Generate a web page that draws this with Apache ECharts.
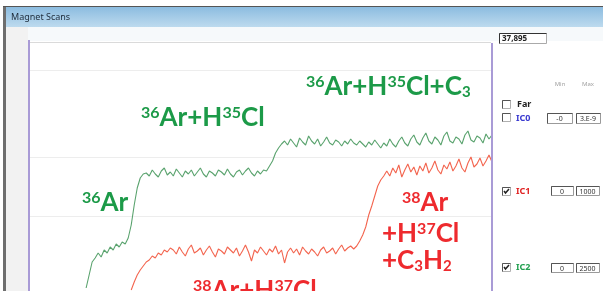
<!DOCTYPE html>
<html><head><meta charset="utf-8">
<script src="https://cdn.jsdelivr.net/npm/echarts@6/dist/echarts.min.js"></script>
<style>html,body{margin:0;padding:0;background:#fff}#c{width:603px;height:291px}</style>
</head><body><div id="c"></div>
<script>
// scan steps (x categories)
const scanSteps = [];
for (let i = 0; i < 155; i++) scanSteps.push(String(i));

// IC2 (green) counts
const ic2Counts = [
 null,null,null,null,null,null,null,null,null,null,null,null,null,null,null,null,null,null,null,
 30,160,290,330,380,340,410,380,440,410,470,440,490,470,530,660,860,1030,1130,1170,
 1180,1150,1210,1170,1140,1200,1230,1160,1190,1150,1220,1180,1140,1200,1170,1210,1150,1190,1230,1170,
 1140,1200,1180,1150,1210,1190,1160,1220,1170,1140,1190,1210,1160,1200,1230,1180,1150,1200,1170,1210,
 1200,1250,1300,1380,1430,1470,1500,
 1460,1520,1480,1440,1530,1490,1460,1550,1500,1470,
 1520,1450,1490,1540,1480,1460,1510,1490,1450,1500,
 1470,1520,1480,1460,1500,1470,1440,1490,1460,1510,
 1470,1430,1480,1450,1520,1470,1440,1500,1540,1480,
 1450,1520,1560,1490,1460,1530,1580,1500,1470,1540,
 1510,1460,1550,1590,1500,1480,1540,1520,1470,1560,
 1600,1510,1490,1550,1530,1480,1570,1520,1560
];

// IC1 (red) counts
const ic1Counts = [
 null,null,null,null,null,null,null,null,null,null,null,null,null,null,null,null,null,
 null,null,null,null,null,null,null,null,null,null,null,null,null,null,null,null,null,
 10,90,160,210,250,290,310,350,330,380,360,410,390,430,
 410,370,440,390,350,420,460,380,400,430,
 360,410,450,390,340,420,400,370,440,410,
 380,430,350,400,460,390,300,410,380,440,
 400,360,420,390,450,370,410,280,390,430,
 380,420,360,440,400,370,420,390,350,410,
 440,380,400,430,370,420,460,400,430,450,
 420,
 450,500,560,640,760,850,950,1050,1110,1150,1200,
 1150,1230,1180,1260,1140,1210,1270,1190,1240,1160,
 1250,1200,1280,1180,1230,1300,1210,1170,1260,1220,
 1290,1200,1250,1320,1230,1190,1280,1340,1240,1270,
 1330,1250,1300,1360,1290
];

// faint horizontal reference levels
const gridLevels = [2210, 1340, 750];

const GREEN_TXT = '#1c9a48', RED_TXT = '#ee2a2e';
const LBL_FONT = 'Lato, "Open Sans", sans-serif';

function richFor(color) {
  return {
    m: {fontSize: 26, fontWeight: 'bold', fontFamily: LBL_FONT, fill: color, color: color, lineHeight: 26, verticalAlign: 'bottom'},
    s: {fontSize: 16, fontWeight: 'bold', fontFamily: LBL_FONT, fill: color, color: color, lineHeight: 16, verticalAlign: 'top'},
    b: {fontSize: 15, fontWeight: 'bold', fontFamily: LBL_FONT, fill: color, color: color, lineHeight: 15, verticalAlign: 'bottom'}
  };
}
function chem(text, color, x, y) {
  return {type: 'text', z: 100, style: {text: text, x: x, y: y, rich: richFor(color),
    align: 'left', textAlign: 'left', verticalAlign: 'top', textVerticalAlign: 'top'}};
}
function txt(text, x, y, opt) {
  return {type: 'text', z: 50, style: Object.assign({text: text, x: x, y: y, fontSize: 9,
    fontFamily: '"Noto Sans", sans-serif', fill: '#222',
    align: 'left', textAlign: 'left', verticalAlign: 'middle', textVerticalAlign: 'middle'}, opt || {})};
}
function box(x, y, w, h, label) {
  return [
    {type: 'rect', z: 40, shape: {x: x + 0.5, y: y + 0.5, width: w, height: h}, style: {fill: '#fff', stroke: '#9a9a9a', lineWidth: 1}},
    {type: 'polyline', z: 41, shape: {points: [[x + 0.5, y + h + 0.5], [x + 0.5, y + 0.5], [x + w + 0.5, y + 0.5]]}, style: {fill: null, stroke: '#555', lineWidth: 1}},
    txt(label, x + w / 2, y + h / 2 + 1, {fontSize: 7, align: 'center', textAlign: 'center', fill: '#333'})
  ];
}
function checkbox(x, y, checked) {
  const arr = [
    {type: 'rect', z: 40, shape: {x: x + 0.5, y: y + 0.5, width: 8, height: 8}, style: {fill: '#fff', stroke: '#b0b0b0', lineWidth: 1}},
    {type: 'polyline', z: 41, shape: {points: [[x + 0.5, y + 8.5], [x + 0.5, y + 0.5], [x + 8.5, y + 0.5]]}, style: {fill: null, stroke: '#555', lineWidth: 1}}
  ];
  if (checked) arr.push({type: 'polyline', z: 42, shape: {points: [[x + 2, y + 4], [x + 3.5, y + 6], [x + 7, y + 2]]}, style: {fill: null, stroke: '#222', lineWidth: 1.5}});
  return arr;
}

const graphics = [].concat(
  [
    {type: 'rect', z: -5, shape: {x: 3, y: 7, width: 600, height: 20},
      style: {fill: new echarts.graphic.LinearGradient(0, 0, 0, 1, [{offset: 0, color: '#8cbce0'}, {offset: 1, color: '#bddaee'}])}},
    {type: 'line', z: -4, shape: {x1: 3, y1: 6.5, x2: 603, y2: 6.5}, style: {stroke: '#555', lineWidth: 1}},
    {type: 'rect', z: -4, shape: {x: 3, y: 7, width: 3, height: 284}, style: {fill: '#6e6e6e'}},
    {type: 'rect', z: -6, shape: {x: 6, y: 27, width: 597, height: 14}, style: {fill: '#f6f9fb'}},
    {type: 'rect', z: -6, shape: {x: 6, y: 27, width: 22, height: 264}, style: {fill: '#f2f2f2'}},
    txt('Magnet Scans', 11, 17, {fontSize: 9, fill: '#1d2b3a'}),
    {type: 'line', z: 1, shape: {x1: 29, y1: 42.5, x2: 491, y2: 42.5}, style: {stroke: '#dadada', lineWidth: 1}},
    {type: 'line', z: 60, shape: {x1: 29, y1: 40, x2: 29, y2: 291}, style: {stroke: '#a99bd6', lineWidth: 2}},
    {type: 'line', z: 60, shape: {x1: 492, y1: 43, x2: 492, y2: 291}, style: {stroke: '#a99bd6', lineWidth: 2}},
    // field readout
    {type: 'rect', z: 40, shape: {x: 499.5, y: 33.5, width: 47, height: 10}, style: {fill: '#fff', stroke: '#aaa', lineWidth: 1}},
    {type: 'polyline', z: 41, shape: {points: [[499.5, 43.5], [499.5, 33.5], [546.5, 33.5]]}, style: {fill: null, stroke: '#333', lineWidth: 1}},
    txt('37,895', 502, 39, {fontSize: 8, fontWeight: 'bold', fill: '#222'}),
    txt('Min', 560, 84, {fontSize: 6, fill: '#a0a0a0', align: 'center', textAlign: 'center'}),
    txt('Max', 588, 84, {fontSize: 6, fill: '#a0a0a0', align: 'center', textAlign: 'center'}),
    txt('Far', 517, 104, {fontSize: 9, fontWeight: 'bold', fill: '#222'}),
    txt('IC0', 516, 118, {fontSize: 9, fontWeight: 'bold', fill: '#3a3ad0'}),
    txt('IC1', 516, 191, {fontSize: 9, fontWeight: 'bold', fill: '#e02424'}),
    txt('IC2', 516, 267, {fontSize: 9, fontWeight: 'bold', fill: '#22a050'})
  ],
  checkbox(502, 100, false), checkbox(502, 113, false), checkbox(502, 187, true), checkbox(502, 263, true),
  box(547, 113, 25, 10, '-0'), box(576, 113, 24, 10, '3.E-9'),
  box(551, 186, 22, 9, '0'), box(576, 186, 23, 9, '1000'),
  box(551, 263, 22, 9, '0'), box(576, 263, 23, 9, '2500'),
  [
    chem('{s|36}{m|Ar+H}{s|35}{m|Cl}', GREEN_TXT, 141, 105),
    chem('{s|36}{m|Ar+H}{s|35}{m|Cl+C}{b|3}', GREEN_TXT, 306, 74),
    chem('{s|36}{m|Ar}', GREEN_TXT, 82, 190),
    chem('{s|38}{m|Ar}', RED_TXT, 402, 190),
    chem('{m|+H}{s|37}{m|Cl}', RED_TXT, 382, 221),
    chem('{m|+C}{b|3}{m|H}{b|2}', RED_TXT, 382, 248),
    chem('{s|38}{m|Ar+H}{s|37}{m|Cl}', RED_TXT, 193, 278)
  ]
);

const chart = echarts.init(document.getElementById('c'), null, {renderer: 'canvas'});
chart.setOption({
  backgroundColor: '#ffffff',
  animation: false,
  grid: {left: 29, right: 111, top: 43, bottom: 0},
  xAxis: {type: 'category', data: scanSteps, boundaryGap: false, show: false},
  yAxis: {type: 'value', min: 0, max: 2480, show: false, splitLine: {show: false}},
  series: [
    {type: 'line', name: 'IC2', data: ic2Counts, symbol: 'none', clip: true, z: 5,
      lineStyle: {color: '#5aa36e', width: 1.1},
      markLine: {silent: true, symbol: 'none', label: {show: false},
        lineStyle: {color: '#ededed', type: 'solid', width: 1},
        data: gridLevels.map(v => ({yAxis: v}))}},
    {type: 'line', name: 'IC1', data: ic1Counts, symbol: 'none', clip: true, z: 5,
      lineStyle: {color: '#f3654f', width: 1.1}}
  ],
  graphic: {elements: graphics}
});
</script></body></html>
